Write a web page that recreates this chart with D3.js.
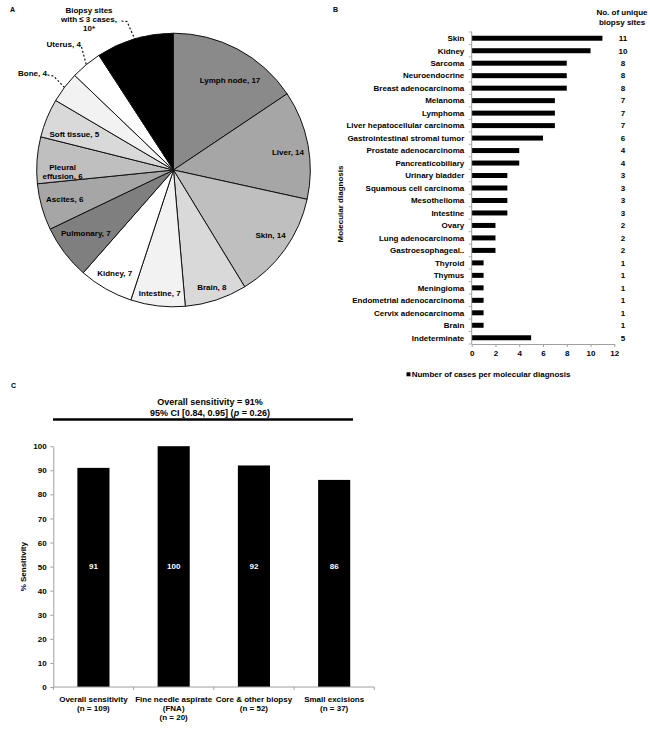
<!DOCTYPE html>
<html><head><meta charset="utf-8">
<script src="https://cdn.jsdelivr.net/npm/d3@7"></script>
<style>
body{margin:0;background:#fff;}
svg{display:block;font-family:"Liberation Sans",Arial,sans-serif;font-weight:bold;}
</style></head><body>
<svg id="chart" width="650" height="749"></svg>
<script>
// ---------- Panel A data ----------
const siteNames = ["Lymph node","Liver","Skin","Brain","Intestine","Kidney","Pulmonary","Ascites","Pleural effusion","Soft tissue","Bone","Uterus","Biopsy sites with ≤ 3 cases"];
const siteCounts = [17,14,14,8,7,7,7,6,6,5,4,4,10];
const siteFills = ["#8a8a8a","#a6a6a6","#bfbfbf","#d9d9d9","#f2f2f2","#ffffff","#7f7f7f","#a6a6a6","#bfbfbf","#d9d9d9","#f2f2f2","#ffffff","#000000"];
const siteLabelLines = [["Lymph node, 17"],["Liver, 14"],["Skin, 14"],["Brain, 8"],["Intestine, 7"],["Kidney, 7"],["Pulmonary, 7"],["Ascites, 6"],["Pleural","effusion, 6"],["Soft tissue, 5"],["Bone, 4"],["Uterus, 4"],["Biopsy sites","with ≤ 3 cases,","10*"]];

// ---------- Panel B data ----------
const diagnoses = ["Skin","Kidney","Sarcoma","Neuroendocrine","Breast adenocarcinoma","Melanoma","Lymphoma","Liver hepatocellular carcinoma","Gastrointestinal stromal tumor","Prostate adenocarcinoma","Pancreaticobiliary","Urinary bladder","Squamous cell carcinoma","Mesothelioma","Intestine","Ovary","Lung adenocarcinoma","Gastroesophageal..","Thyroid","Thymus","Meningioma","Endometrial adenocarcinoma","Cervix adenocarcinoma","Brain","Indeterminate"];
const casesPerDiagnosis = [11,10,8,8,8,7,7,7,6,4,4,3,3,3,3,2,2,2,1,1,1,1,1,1,5];
const uniqueBiopsySites = [11,10,8,8,8,7,7,7,6,4,4,3,3,3,3,2,2,2,1,1,1,1,1,1,5];
const bTicks = [0,2,4,6,8,10,12];

// ---------- Panel C data ----------
const biopsyTypes = ["Overall sensitivity","Fine needle aspirate","Core & other biopsy","Small excisions"];
const biopsyLabelLines = [["Overall sensitivity","(n = 109)"],["Fine needle aspirate","(FNA)","(n = 20)"],["Core & other biopsy","(n = 52)"],["Small excisions","(n = 37)"]];
const sensitivity = [91,100,92,86];
const cTicks = [0,10,20,30,40,50,60,70,80,90,100];

// ---------- layout ----------
const svg = d3.select("#chart");
const FS = 8;
const axisGray = "#a0a0a0";

// Panel letters
svg.append("text").attr("x",10).attr("y",12).attr("font-size",7).text("A");
svg.append("text").attr("x",333).attr("y",12).attr("font-size",7).text("B");
svg.append("text").attr("x",11).attr("y",388).attr("font-size",7).text("C");

// ===== Panel A: pie =====
const cx = 173.5, cy = 170, R = 136.8;
const gA = svg.append("g").attr("transform",`translate(${cx},${cy})`);
const pieData = d3.pie().sort(null).value(d=>d)(siteCounts);
const arc = d3.arc().innerRadius(0).outerRadius(R);
const edgeArc = d3.arc().innerRadius(R).outerRadius(R);
gA.selectAll("path.slice").data(pieData).join("path")
  .attr("class","slice")
  .attr("d",arc)
  .attr("fill",(d,i)=>siteFills[i])
  .attr("stroke","#111").attr("stroke-width",1);

// label anchor offsets from pie centre (annotation layout)
const labelOffsets = [[56.5,-90],[114.5,-17.7],[97,65],[38.3,117.3],[-13.8,123.3],[-58.8,103.3],[-87.7,63.3],[-108.8,29],[-110.9,1.2],[-99.2,-35.7],[-141,-96.7],[-109.8,-126],[-84.5,-151]];
const lineH = 9;
siteLabelLines.forEach((lines,i)=>{
  const [ox,oy] = labelOffsets[i];
  const t = gA.append("text").attr("text-anchor","middle").attr("font-size",FS).attr("fill","#000");
  lines.forEach((ln,j)=>{
    t.append("tspan").attr("x",ox)
      .attr("y",oy + (j-(lines.length-1)/2)*lineH + FS*0.35)
      .text(ln);
  });
});
// leader lines for outside labels
const leaderStarts = {10:[[-126,-95],[-120,-94]], 11:[[-92,-123]], 12:[[-52,-149],[-46.5,-148.5]]};
Object.keys(leaderStarts).forEach(k=>{
  const end = edgeArc.centroid(pieData[+k]);
  const pts = leaderStarts[k].concat([end]);
  gA.append("path").attr("d",d3.line()(pts))
    .attr("fill","none").attr("stroke","#000").attr("stroke-width",1.1)
    .attr("stroke-dasharray","2,2");
});

// ===== Panel B: horizontal bars =====
const bx = d3.scaleLinear().domain([0,12]).range([471.7,614.3]);
const by = d3.scaleBand().domain(diagnoses).range([32,344]).paddingInner(0.6).paddingOuter(0.3);
const gB = svg.append("g");
gB.selectAll("rect.bar").data(diagnoses).join("rect")
  .attr("x",bx(0)).attr("y",d=>by(d))
  .attr("width",(d,i)=>bx(casesPerDiagnosis[i])-bx(0))
  .attr("height",by.bandwidth()).attr("fill","#000");
// y axis
gB.append("line").attr("x1",bx(0)).attr("x2",bx(0)).attr("y1",31.5).attr("y2",344)
  .attr("stroke",axisGray).attr("stroke-width",1);
const stepB = by.step();
d3.range(diagnoses.length+1).forEach(i=>{
  const yy = by(diagnoses[0]) - by.paddingInner()*stepB/2 + i*stepB;
  gB.append("line").attr("x1",bx(0)-3).attr("x2",bx(0)).attr("y1",yy).attr("y2",yy)
    .attr("stroke",axisGray).attr("stroke-width",0.8);
});
// category labels
gB.selectAll("text.cat").data(diagnoses).join("text")
  .attr("x",464.3).attr("y",d=>by(d)+by.bandwidth()/2+FS*0.35)
  .attr("text-anchor","end").attr("font-size",FS).text(d=>d);
// right column
gB.selectAll("text.num").data(diagnoses).join("text")
  .attr("x",623).attr("y",d=>by(d)+by.bandwidth()/2+FS*0.35)
  .attr("text-anchor","middle").attr("font-size",FS).text((d,i)=>uniqueBiopsySites[i]);
gB.append("text").attr("x",622).attr("y",15.2).attr("text-anchor","middle").attr("font-size",FS).text("No. of unique");
gB.append("text").attr("x",622).attr("y",24.6).attr("text-anchor","middle").attr("font-size",FS).text("biopsy sites");
// x axis
const axB = gB.append("g").attr("transform","translate(0,344)")
  .call(d3.axisBottom(bx).tickValues(bTicks).tickSize(3).tickPadding(3).tickSizeOuter(0));
axB.select(".domain").attr("stroke",axisGray);
axB.selectAll(".tick line").attr("stroke",axisGray);
axB.selectAll("text").attr("font-size",FS).attr("font-family","Liberation Sans, Arial, sans-serif").attr("font-weight","bold").attr("fill","#000");
// y title
gB.append("text").attr("transform","translate(343.2,204) rotate(-90)")
  .attr("text-anchor","middle").attr("font-size",FS).text("Molecular diagnosis");
// legend
gB.append("rect").attr("x",406.5).attr("y",372.3).attr("width",4).attr("height",4).attr("fill","#000");
gB.append("text").attr("x",411.7).attr("y",377.2).attr("font-size",FS).text("Number of cases per molecular diagnosis");

// ===== Panel C: vertical bars =====
const cxs = d3.scaleBand().domain(biopsyTypes).range([53.3,374.3]).paddingInner(0.6).paddingOuter(0.3);
const cys = d3.scaleLinear().domain([0,100]).range([687,446.2]);
const gC = svg.append("g");
gC.selectAll("rect.cbar").data(biopsyTypes).join("rect")
  .attr("x",d=>cxs(d)).attr("y",(d,i)=>cys(sensitivity[i]))
  .attr("width",cxs.bandwidth()).attr("height",(d,i)=>cys(0)-cys(sensitivity[i]))
  .attr("fill","#000");
gC.selectAll("text.val").data(biopsyTypes).join("text")
  .attr("x",d=>cxs(d)+cxs.bandwidth()/2).attr("y",cys(50)+FS*0.35)
  .attr("text-anchor","middle").attr("font-size",FS).attr("fill","#fff")
  .text((d,i)=>sensitivity[i]);
// y axis
const axC = gC.append("g").attr("transform","translate(53.3,0)")
  .call(d3.axisLeft(cys).tickValues(cTicks).tickSize(3).tickPadding(3.6).tickSizeOuter(0));
axC.select(".domain").attr("stroke",axisGray);
axC.selectAll(".tick line").attr("stroke",axisGray);
axC.selectAll("text").attr("font-size",FS).attr("font-family","Liberation Sans, Arial, sans-serif").attr("font-weight","bold").attr("fill","#000");
// x axis
gC.append("line").attr("x1",53.3).attr("x2",374.3).attr("y1",687).attr("y2",687).attr("stroke",axisGray);
const stepC = cxs.step();
d3.range(biopsyTypes.length+1).forEach(i=>{
  const xx = 53.3 + i*stepC;
  gC.append("line").attr("x1",xx).attr("x2",xx).attr("y1",687).attr("y2",690).attr("stroke",axisGray);
});
biopsyLabelLines.forEach((lines,i)=>{
  const t = gC.append("text").attr("text-anchor","middle").attr("font-size",FS);
  lines.forEach((ln,j)=>{
    t.append("tspan").attr("x",cxs(biopsyTypes[i])+cxs.bandwidth()/2).attr("y",702.2+j*9).text(ln);
  });
});
// y title
gC.append("text").attr("transform","translate(26.2,566.7) rotate(-90)")
  .attr("text-anchor","middle").attr("font-size",FS).text("% Sensitivity");
// title + rule
gC.append("text").attr("x",210).attr("y",404.6).attr("text-anchor","middle").attr("font-size",9).text("Overall sensitivity = 91%");
const t2 = gC.append("text").attr("x",210).attr("y",416.3).attr("text-anchor","middle").attr("font-size",9);
t2.append("tspan").text("95% CI [0.84, 0.95] (");
t2.append("tspan").attr("font-style","italic").text("p");
t2.append("tspan").text(" = 0.26)");
gC.append("line").attr("x1",53).attr("x2",353).attr("y1",419.5).attr("y2",419.5).attr("stroke","#000").attr("stroke-width",2.4);
</script>
</body></html>
